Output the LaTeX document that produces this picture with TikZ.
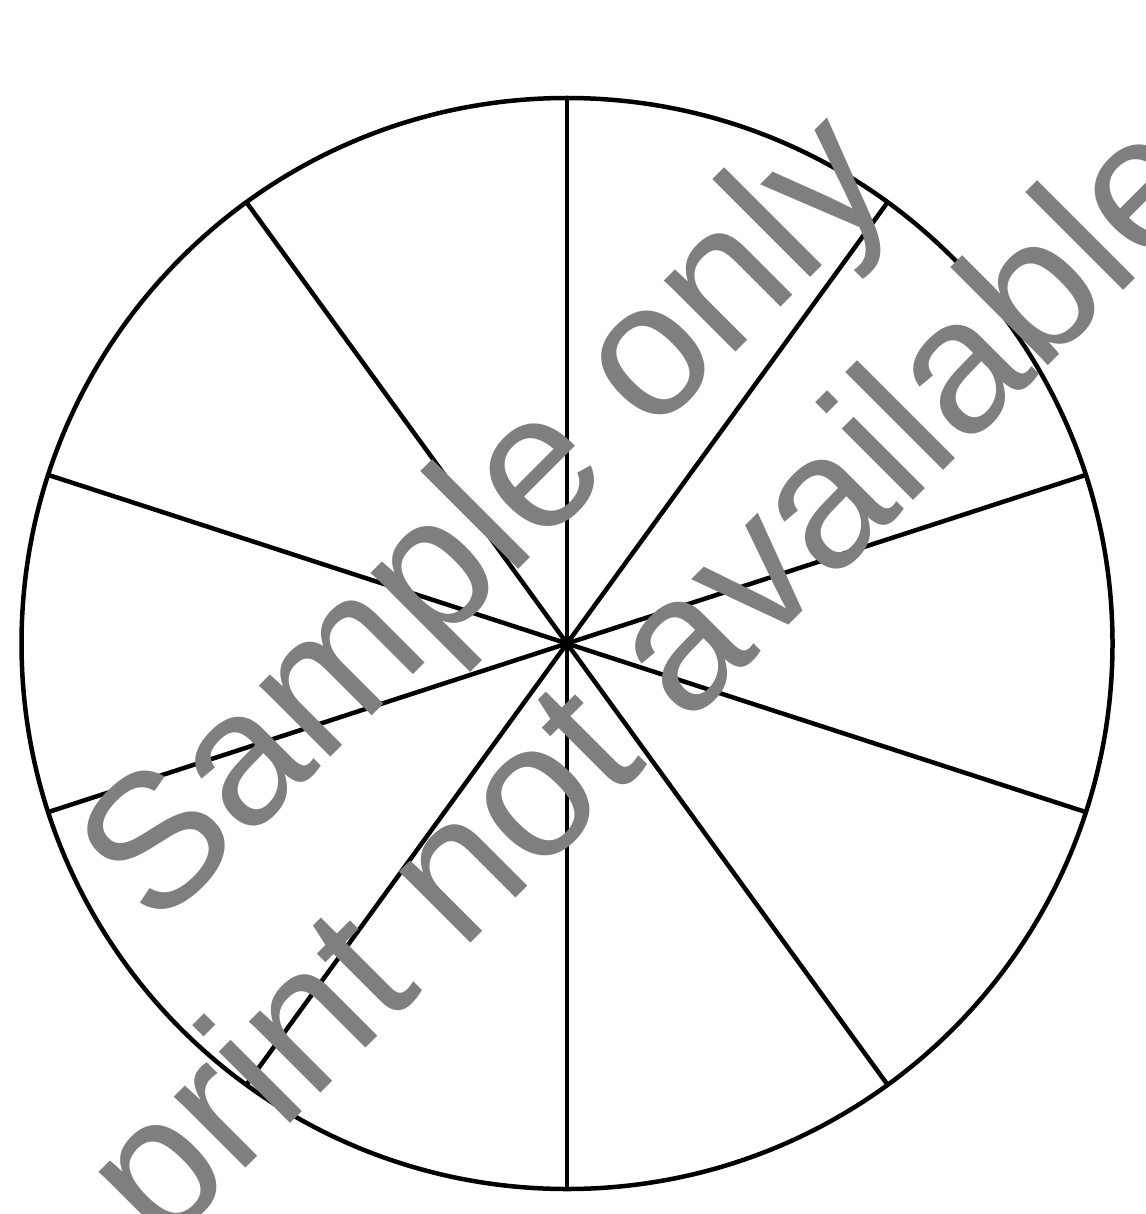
\documentclass[tikz,border=0pt]{standalone}
\usepackage{fontspec}
\usetikzlibrary{calc}
\newfontfamily\wmfont{Liberation Sans}
\definecolor{wmgray}{HTML}{7F7F7F}
\begin{document}
\begin{tikzpicture}[x=1pt,y=1pt,
  rim/.style={line width=4.5pt, draw=black},
  spoke/.style={line width=4.5pt, draw=black},
  wm/.style={font=\wmfont\fontsize{191}{229}\selectfont, text=wmgray, inner sep=0pt, rotate=45}]
\useasboundingbox (0,0) rectangle (1145,-1214);
\fill[white] (0,0) rectangle (1145,-1214);
\clip (0,0) rectangle (1145,-1214);
\coordinate (O) at (567,-643.5);
\draw[rim] (O) circle[radius=545.5];
\foreach \a in {18,54,...,342} {
  \coordinate (E\a) at ($(O)+(\a:545.5)$);
  \draw[spoke] (O) -- (E\a);
}
\fill (O) circle[radius=7];
\node[wm] (l1) at (493,-525) {Sample only};
\node[wm] (l2) at (656,-688) {print not available};
\end{tikzpicture}
\end{document}
